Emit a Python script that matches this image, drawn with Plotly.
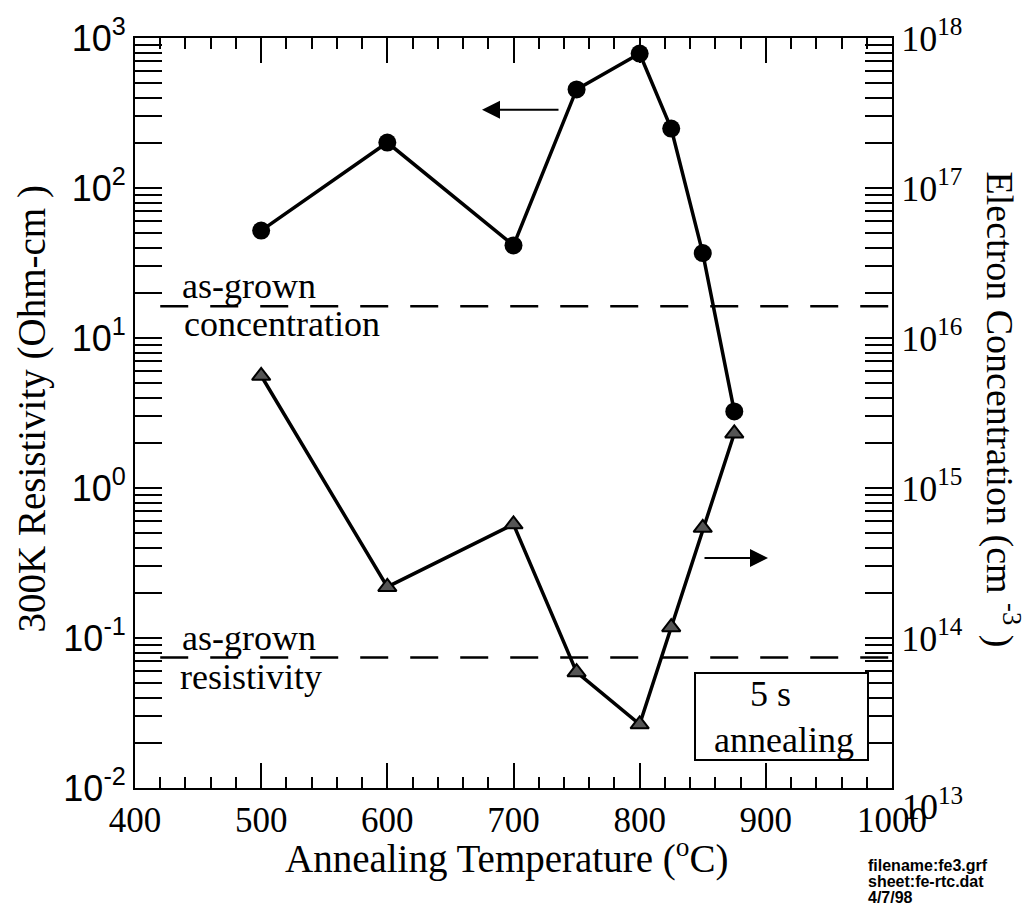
import plotly.graph_objects as go

# ---- data ----
temps = [500, 600, 700, 750, 800, 825, 850, 875]
resistivity = [52, 201, 41.4, 454, 787, 249, 36.8, 3.24]            # Ohm-cm (left axis)
concentration = [5.6e15, 2.19e14, 5.73e14, 5.92e13, 2.66e13, 1.18e14, 5.43e14, 2.31e15]  # cm^-3 (right axis)
asgrown_x = [420, 1000]
asgrown_conc = 1.63e16
asgrown_res = 0.0741

x_range = [400, 1000]
left_decades = [-2, -1, 0, 1, 2, 3]
right_decades = [13, 14, 15, 16, 17, 18]

# ---- layout geometry (pixels) ----
W, H = 1031, 907
L, R, T, B = 135, 892, 35, 788
pw, ph = R - L, B - T


def px(xp):
    return (xp - L) / pw


def py(yp):
    return (B - yp) / ph


def tick_set(decades):
    vals, texts = [], []
    for d in decades[:-1]:
        for m in range(1, 10):
            vals.append(m * 10.0 ** d)
            texts.append("10<sup>%d</sup>" % d if m == 1 else "")
    vals.append(10.0 ** decades[-1])
    texts.append("10<sup>%d</sup>" % decades[-1])
    return vals, texts


lv, lt = tick_set(left_decades)
rv, rt = tick_set(right_decades)
rt = [t if t != "10<sup>13</sup>" else "" for t in rt]

SERIF = "Liberation Serif, Times New Roman, serif"
SANS = "Liberation Sans, Arial, sans-serif"

fig = go.Figure()

fig.add_trace(go.Scatter(x=asgrown_x, y=[asgrown_conc] * 2, yaxis="y2", mode="lines",
                         line=dict(color="black", width=2.5, dash="28px,22px"), showlegend=False))
fig.add_trace(go.Scatter(x=asgrown_x, y=[asgrown_res] * 2, mode="lines",
                         line=dict(color="black", width=2.5, dash="28px,22px"), showlegend=False))
fig.add_trace(go.Scatter(x=temps, y=resistivity, mode="lines+markers",
                         line=dict(color="black", width=3.5),
                         marker=dict(symbol="circle", size=18, color="black"), showlegend=False))
fig.add_trace(go.Scatter(x=temps, y=concentration, yaxis="y2", mode="lines+markers",
                         line=dict(color="black", width=3.5),
                         marker=dict(symbol="triangle-up", size=16, color="#555555",
                                     line=dict(color="black", width=2)), showlegend=False))

ann = []


def txt(x, y, s, size=36, xanchor="left", font=SERIF, **kw):
    ann.append(dict(x=x, y=y, xref="paper", yref="paper", text=s, showarrow=False,
                    xanchor=xanchor, yanchor="middle", font=dict(family=font, size=size, color="black"), **kw))


txt(px(180), py(284), "as-grown")
txt(px(182), py(322), "concentration")
txt(px(180), py(637), "as-grown")
txt(px(178), py(677), "resistivity")

# box
ann.append(dict(x=px(781.5), y=py(716.5), xref="paper", yref="paper", text="", showarrow=False,
                xanchor="center", yanchor="middle",
                width=171, height=85, bordercolor="black", borderwidth=2, bgcolor="white", borderpad=0))
txt(px(770), py(694), "5 s", xanchor="center")
txt(px(784), py(740), "annealing", xanchor="center")

# axis titles
txt(px(32), py(408), "300K Resistivity (Ohm-cm )", size=39, xanchor="center", textangle=-90)
txt(px(1002), py(408), "Electron Concentration (cm <sup>-3</sup> )", size=38, xanchor="center", textangle=90)
txt(px(506), py(857), "Annealing Temperature (<sup>o</sup>C)", size=39, xanchor="center")

# shifted 10^13 label
txt(px(900), py(805), "10<sup>13</sup>", size=36)

# file info
for i, s in enumerate(["filename:fe3.grf", "sheet:fe-rtc.dat", "4/7/98"]):
    txt(px(866), py(866 + 16 * i), "<b>%s</b>" % s, size=16, font=SANS)

# arrows
ann.append(dict(x=px(482), y=py(107), xref="paper", yref="paper", ax=78, ay=0, text="",
                showarrow=True, arrowhead=2, arrowsize=1.8, arrowwidth=2, arrowcolor="black"))
ann.append(dict(x=px(768), y=py(557), xref="paper", yref="paper", ax=-65, ay=0, text="",
                showarrow=True, arrowhead=2, arrowsize=1.8, arrowwidth=2, arrowcolor="black"))

fig.update_layout(
    width=W, height=H,
    margin=dict(l=L, r=W - R, t=T, b=H - B),
    paper_bgcolor="white", plot_bgcolor="white",
    annotations=ann,
    xaxis=dict(range=x_range, showgrid=False, zeroline=False, showline=True, linecolor="black", linewidth=2,
               mirror="ticks", ticks="inside", ticklen=25, tickwidth=1.5, tickcolor="black", dtick=100,
               tickfont=dict(family=SERIF, size=35, color="black"),
               minor=dict(dtick=20, ticks="inside", ticklen=11, tickwidth=1.5, tickcolor="black")),
    yaxis=dict(type="log", range=[left_decades[0], left_decades[-1]], showgrid=False, zeroline=False,
               showline=True, linecolor="black", linewidth=2, ticks="inside", ticklen=27, tickwidth=1.5,
               tickcolor="black", tickmode="array", tickvals=lv, ticktext=lt,
               tickfont=dict(family=SANS, size=36, color="black")),
    yaxis2=dict(type="log", range=[right_decades[0], right_decades[-1]], overlaying="y", side="right",
                showgrid=False, zeroline=False, showline=True, linecolor="black", linewidth=2,
                ticks="inside", ticklen=27, tickwidth=1.5, tickcolor="black", tickmode="array",
                tickvals=rv, ticktext=rt, tickfont=dict(family=SERIF, size=36, color="black")),
)

fig.write_html("out.html")
